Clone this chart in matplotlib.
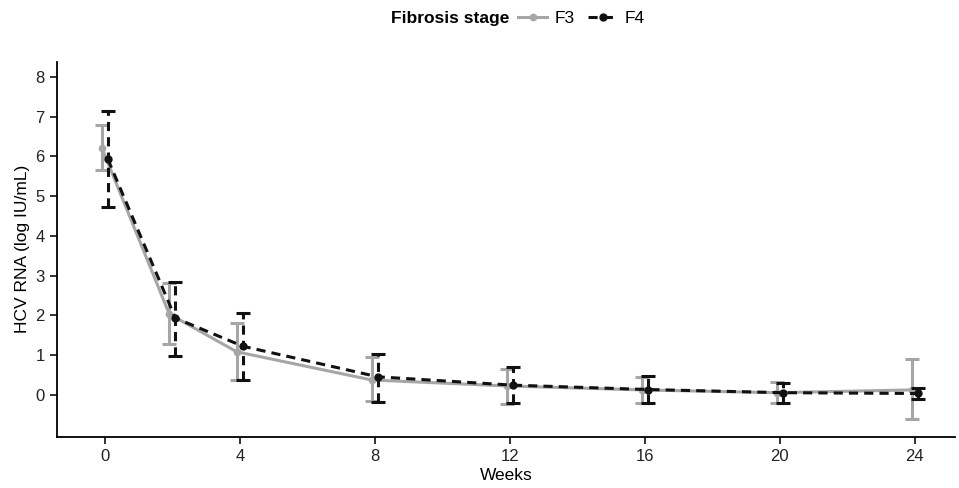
import matplotlib
matplotlib.use("Agg")
import matplotlib.pyplot as plt
from matplotlib.lines import Line2D
import numpy as np

plt.rcParams['font.family'] = ['Liberation Sans', 'DejaVu Sans']

weeks = [0, 2, 4, 8, 12, 16, 20, 24]
f3_mean = [6.22, 2.03, 1.08, 0.37, 0.22, 0.12, 0.05, 0.12]
f3_low = [5.66, 1.28, 0.38, -0.17, -0.23, -0.20, -0.20, -0.62]
f3_high = [6.79, 2.82, 1.81, 0.96, 0.65, 0.45, 0.32, 0.90]
f4_mean = [5.93, 1.93, 1.22, 0.45, 0.24, 0.13, 0.05, 0.03]
f4_low = [4.72, 0.98, 0.38, -0.18, -0.22, -0.20, -0.20, -0.10]
f4_high = [7.14, 2.85, 2.06, 1.03, 0.70, 0.48, 0.30, 0.17]

dodge = 0.09

fig = plt.figure(figsize=(9.59, 4.88), dpi=100)
ax = fig.add_axes([0.059, 0.105, 0.937, 0.768])

x = np.array(weeks, dtype=float)
f3m = np.array(f3_mean); f4m = np.array(f4_mean)
gray = '#a6a6a6'

e3 = ax.errorbar(x - dodge, f3m, yerr=[f3m - np.array(f3_low), np.array(f3_high) - f3m],
                 color=gray, lw=2.2, marker='o', ms=4.5, capsize=5, capthick=2.2,
                 elinewidth=2.2, zorder=2)
e4 = ax.errorbar(x + dodge, f4m, yerr=[f4m - np.array(f4_low), np.array(f4_high) - f4m],
                 color='#111111', lw=2.2, ls=(0, (3, 2)), marker='o', ms=5, capsize=5,
                 capthick=2.2, elinewidth=2.2, zorder=3)
for bar in e4[2]:
    bar.set_linestyle((0, (3, 2)))

ax.set_xlim(-1.43, 25.2)
ax.set_ylim(-1.06, 8.38)
ax.set_xticks([0, 4, 8, 12, 16, 20, 24])
ax.set_yticks(range(0, 9))
for s in ['top', 'right']:
    ax.spines[s].set_visible(False)
for s in ['left', 'bottom']:
    ax.spines[s].set_linewidth(1.3)
ax.tick_params(labelsize=12, width=1.3, length=5, colors='#222222')
ax.set_xlabel('Weeks', fontsize=12.5, labelpad=3)
ax.set_ylabel('HCV RNA (log IU/mL)', fontsize=12.5, labelpad=4)

h3 = Line2D([], [], color=gray, lw=2.2, marker='o', ms=4.5)
h4 = Line2D([], [], color='#111111', lw=2.2, ls=(0, (3, 2)), marker='o', ms=5)
fig.text(0.531, 0.962, 'Fibrosis stage', fontsize=12.5, fontweight='bold', va='center', ha='right')
fig.legend([h3, h4], ['F3', 'F4'], ncol=2, loc='center left', bbox_to_anchor=(0.54, 0.962),
           frameon=False, fontsize=12.5, handlelength=1.7, handletextpad=0.4,
           columnspacing=0.8, borderaxespad=0, borderpad=0)

fig.savefig('out.png', dpi=100)
